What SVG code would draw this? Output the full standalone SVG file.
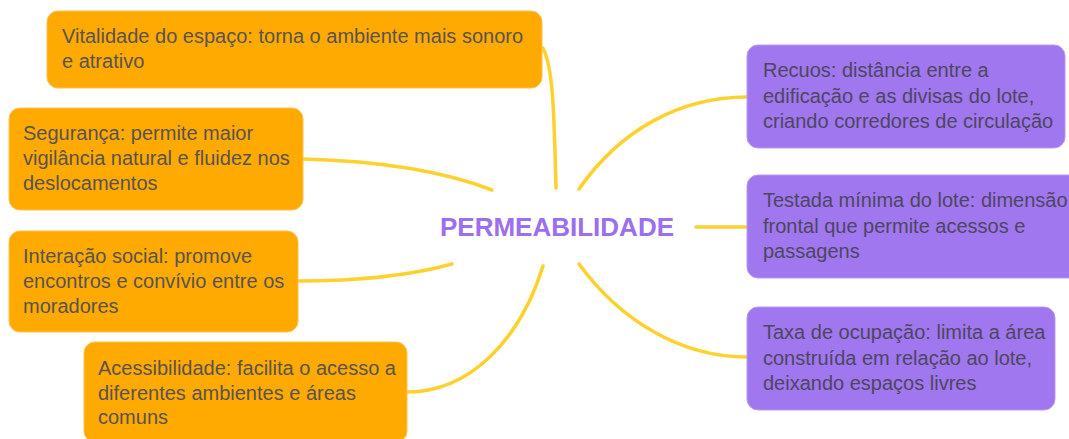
<svg xmlns="http://www.w3.org/2000/svg" width="1069" height="439" viewBox="0 0 1069 439">
<style>
.o{fill:#FFAA00;stroke:#FFC04D;stroke-width:1}
.p{fill:#A077EE;stroke:#B899F3;stroke-width:1}
.t{font-family:"Liberation Sans",Arial,sans-serif;font-size:20px}
.to{fill:#5a5350}
.tp{fill:#4e4663}
.c{fill:none;stroke:#FFD12E;stroke-width:3.5;stroke-linecap:round}
</style>
<rect width="1069" height="439" fill="#ffffff"/>
<g id="connectors">
<path class="c" d="M556 188 C554 120 554 70 543 48"/>
<path class="c" d="M492 190 Q420 162 303 159"/>
<path class="c" d="M452 264 Q390 281 298 281"/>
<path class="c" d="M543 266 C520 340 470 392 407 392"/>
<path class="c" d="M579 189 C620 130 680 97 747 97"/>
<path class="c" d="M696 227 L747 227"/>
<path class="c" d="M579 264 C620 320 680 357 747 357"/>
</g>
<g id="center">
<text x="557" y="236" text-anchor="middle" font-family="'Liberation Sans',Arial,sans-serif" font-size="26" font-weight="bold" fill="#9B6FEE">PERMEABILIDADE</text>
</g>
<g id="vitalidade">
<rect class="o" x="47" y="11" width="495" height="77" rx="11"/>
<text class="t to" x="62" y="43">Vitalidade do espaço: torna o ambiente mais sonoro</text>
<text class="t to" x="62" y="68">e atrativo</text>
</g>
<g id="seguranca">
<rect class="o" x="9" y="108" width="294" height="102" rx="11"/>
<text class="t to" x="23" y="140">Segurança: permite maior</text>
<text class="t to" x="23" y="165">vigilância natural e fluidez nos</text>
<text class="t to" x="23" y="190">deslocamentos</text>
</g>
<g id="interacao">
<rect class="o" x="9" y="231" width="289" height="101" rx="11"/>
<text class="t to" x="23" y="263">Interação social: promove</text>
<text class="t to" x="23" y="288">encontros e convívio entre os</text>
<text class="t to" x="23" y="313">moradores</text>
</g>
<g id="acessibilidade">
<rect class="o" x="84" y="342" width="323" height="100" rx="11"/>
<text class="t to" x="98" y="375">Acessibilidade: facilita o acesso a</text>
<text class="t to" x="98" y="400">diferentes ambientes e áreas</text>
<text class="t to" x="98" y="424">comuns</text>
</g>
<g id="recuos">
<rect class="p" x="747" y="45" width="318" height="103" rx="11"/>
<text class="t tp" x="763" y="77">Recuos: distância entre a</text>
<text class="t tp" x="763" y="103">edificação e as divisas do lote,</text>
<text class="t tp" x="763" y="128">criando corredores de circulação</text>
</g>
<g id="testada">
<rect class="p" x="747" y="175" width="335" height="103" rx="11"/>
<text class="t tp" x="763" y="207">Testada mínima do lote: dimensão</text>
<text class="t tp" x="763" y="233">frontal que permite acessos e</text>
<text class="t tp" x="763" y="258">passagens</text>
</g>
<g id="taxa">
<rect class="p" x="747" y="307" width="308" height="103" rx="11"/>
<text class="t tp" x="763" y="339">Taxa de ocupação: limita a área</text>
<text class="t tp" x="763" y="365">construída em relação ao lote,</text>
<text class="t tp" x="763" y="390">deixando espaços livres</text>
</g>
</svg>
